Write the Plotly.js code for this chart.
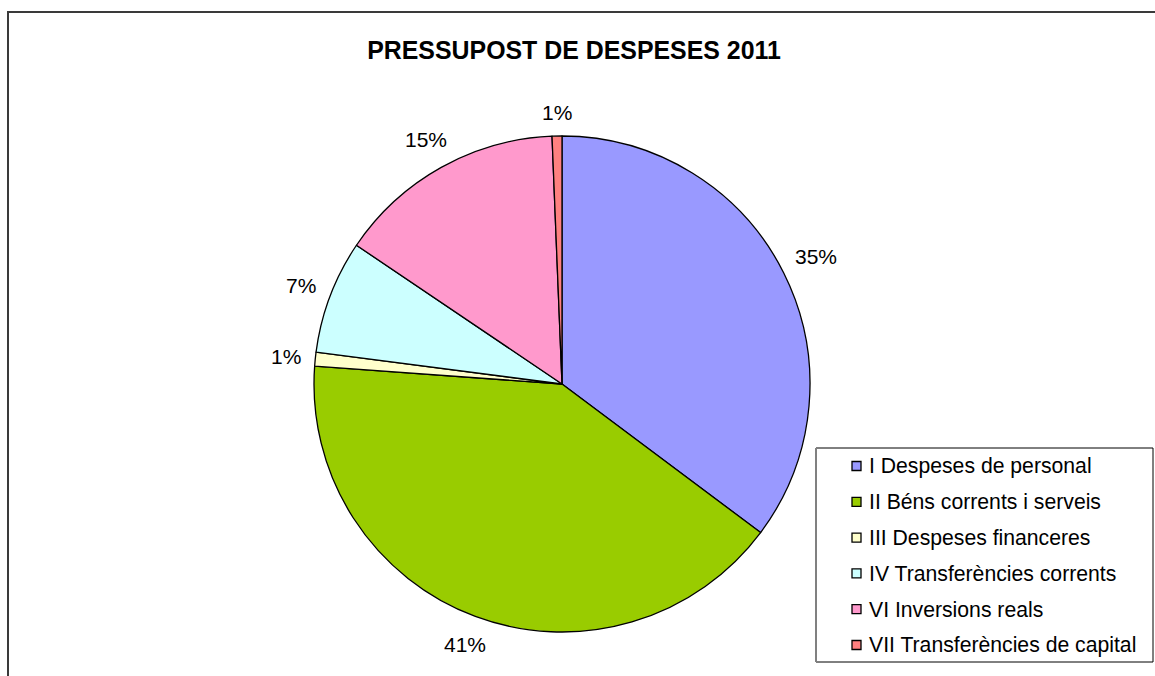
<!DOCTYPE html>
<html>
<head>
<meta charset="utf-8">
<script src="https://cdn.plot.ly/plotly-3.0.1.min.js"></script>
<style>html,body{margin:0;padding:0;background:#fff;}#chart{width:1155px;height:676px;}</style>
</head>
<body>
<div id="chart"></div>
<script>
// Data (percent shares)
const labels = [
  "I Despeses de personal",
  "II Béns corrents i serveis",
  "III Despeses financeres",
  "IV Transferències corrents",
  "VI Inversions reals",
  "VII Transferències de capital"
];
const values = [35.2, 40.9, 0.9, 7.4, 14.9, 0.64];
const colors = ["#9999FF", "#99CC00", "#FFFFCC", "#CCFFFF", "#FF99CC", "#FF8080"];
const chartTitle = "PRESSUPOST DE DESPESES 2011";

const W = 1155, H = 676;
const FONT = "Arial, 'Liberation Sans', sans-serif";
const px = x => x / W;
const py = y => 1 - y / H;

// Pie geometry (pixels)
const cx = 562, cy = 384, R = 248, gap = 13, LFS = 21;

const trace = {
  type: "pie",
  labels: labels,
  values: values,
  sort: false,
  direction: "clockwise",
  rotation: 0,
  marker: { colors: colors, line: { color: "#000000", width: 1.3 } },
  textinfo: "none",
  hoverinfo: "label+percent",
  automargin: false,
  showlegend: false,
  domain: { x: [px(cx - R), px(cx + R)], y: [py(cy + R), py(cy - R)] }
};

// Outer frame + legend box
const shapes = [
  { type: "rect", xref: "paper", yref: "paper", x0: px(8), x1: 1.05, y0: -0.05, y1: py(12),
    line: { color: "#3a3a3a", width: 2 }, fillcolor: "rgba(0,0,0,0)" },
  { type: "rect", xref: "paper", yref: "paper", x0: px(816), x1: px(1153), y0: py(662), y1: py(448),
    line: { color: "#000000", width: 1 }, fillcolor: "#ffffff" },
  { type: "line", xref: "paper", yref: "paper", x0: px(816), x1: px(816), y0: py(662), y1: py(448),
    line: { color: "#808080", width: 2 } }
];
const annotations = [];

// Percentage labels placed outside each slice at its mid-angle (derived from values)
const total = values.reduce((a, b) => a + b, 0);
let cum = 0;
values.forEach((v, i) => {
  const mid = (cum + v / 2) / total * 2 * Math.PI;
  cum += v;
  const txt = Math.round(v / total * 100) + "%";
  const hw = 0.5 * ((txt.length - 1) * 0.556 + 0.889) * LFS;
  const hh = 0.48 * LFS;
  const s = Math.sin(mid), c = Math.cos(mid);
  const d = R + gap + hw * Math.abs(s) + hh * Math.abs(c);
  annotations.push({ xref: "paper", yref: "paper",
    x: px(cx + d * s), y: py(cy - d * c),
    xanchor: "center", yanchor: "middle", showarrow: false,
    text: txt,
    font: { family: FONT, size: LFS, color: "#000000" } });
});

// Legend
const legTop = 466, legStep = 35.8, sq = 9;
labels.forEach((lab, i) => {
  const yc = legTop + i * legStep;
  shapes.push({ type: "rect", xref: "paper", yref: "paper",
    x0: px(852), x1: px(852 + sq), y0: py(yc + sq / 2), y1: py(yc - sq / 2),
    line: { color: "#000000", width: 1.3 }, fillcolor: colors[i] });
  annotations.push({ xref: "paper", yref: "paper", x: px(867), y: py(yc),
    xanchor: "left", yanchor: "middle", showarrow: false, text: lab,
    font: { family: FONT, size: 21.2, color: "#000000" } });
});

const layout = {
  width: W, height: H,
  margin: { l: 0, r: 0, t: 0, b: 0 },
  paper_bgcolor: "#ffffff",
  plot_bgcolor: "#ffffff",
  title: { text: "<b>" + chartTitle + "</b>", x: px(574), xanchor: "center",
    y: py(50), yanchor: "middle", yref: "container",
    font: { family: FONT, size: 24.9, color: "#000000" } },
  showlegend: false,
  shapes: shapes,
  annotations: annotations
};

Plotly.newPlot("chart", [trace], layout, { displayModeBar: false, staticPlot: true });
</script>
</body>
</html>
